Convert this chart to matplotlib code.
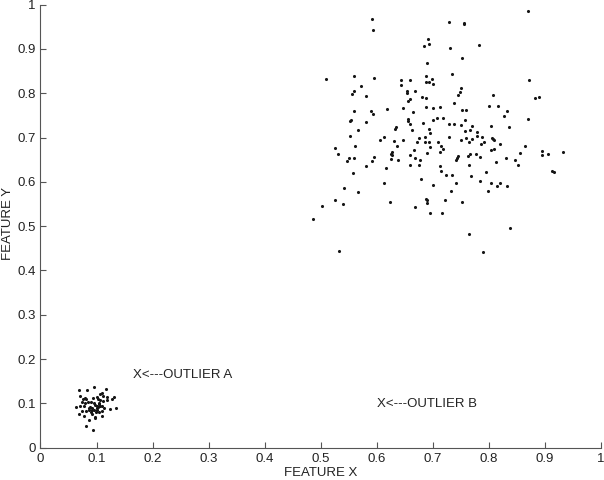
import matplotlib
matplotlib.use("Agg")
import matplotlib.pyplot as plt

# Cluster B (main cluster)
bx = [0.592, 0.593, 0.691, 0.684, 0.693, 0.689, 0.509, 0.560, 0.595, 0.687, 0.698, 0.644, 0.659, 0.687, 0.693, 0.701,
      0.571, 0.643, 0.560, 0.556, 0.654, 0.654, 0.669, 0.581, 0.681, 0.687, 0.659, 0.655, 0.618, 0.646, 0.687, 0.700,
      0.559, 0.589, 0.594, 0.664, 0.554, 0.552, 0.580, 0.656, 0.655, 0.659, 0.683, 0.700, 0.634, 0.633, 0.567, 0.663,
      0.693, 0.695,
      0.869, 0.729, 0.755, 0.755, 0.782, 0.730, 0.752, 0.735, 0.871, 0.750, 0.748, 0.745, 0.807, 0.889, 0.883, 0.737,
      0.712, 0.800, 0.817, 0.752, 0.759, 0.833, 0.827, 0.707, 0.718, 0.870, 0.758, 0.729, 0.738, 0.751, 0.803, 0.770,
      0.836, 0.766, 0.758, 0.778,
      0.553, 0.606, 0.613, 0.631, 0.646, 0.636, 0.675, 0.686, 0.672, 0.686, 0.694, 0.695, 0.525, 0.561, 0.627, 0.625,
      0.628, 0.667, 0.689, 0.530, 0.660, 0.595, 0.550, 0.560, 0.547, 0.626, 0.637, 0.668, 0.677, 0.592, 0.581, 0.659,
      0.676, 0.617, 0.558, 0.679, 0.612, 0.701, 0.542, 0.566, 0.687, 0.690, 0.526, 0.689, 0.624, 0.502, 0.539, 0.669,
      0.695, 0.486, 0.533,
      0.729, 0.710, 0.751, 0.760, 0.770, 0.778, 0.787, 0.765, 0.791, 0.786, 0.806, 0.808, 0.810, 0.819, 0.715, 0.718,
      0.713, 0.804, 0.809, 0.864, 0.894, 0.932, 0.767, 0.762, 0.777, 0.856, 0.894, 0.906, 0.745, 0.744, 0.742, 0.785,
      0.831, 0.813, 0.847, 0.852, 0.713, 0.765, 0.715, 0.794, 0.913, 0.916, 0.724, 0.734, 0.768, 0.785, 0.741, 0.803,
      0.820, 0.814, 0.832, 0.799, 0.733, 0.721, 0.752, 0.717, 0.837, 0.765, 0.790]
by = [0.968, 0.943, 0.922, 0.907, 0.911, 0.869, 0.832, 0.839, 0.834, 0.838, 0.833, 0.830, 0.829, 0.826, 0.825, 0.820,
      0.816, 0.818, 0.805, 0.799, 0.805, 0.801, 0.805, 0.793, 0.792, 0.789, 0.786, 0.782, 0.764, 0.766, 0.768, 0.767,
      0.761, 0.761, 0.754, 0.758, 0.740, 0.737, 0.735, 0.741, 0.738, 0.730, 0.733, 0.740, 0.724, 0.719, 0.716, 0.718,
      0.719, 0.710,
      0.986, 0.961, 0.959, 0.956, 0.910, 0.902, 0.880, 0.843, 0.829, 0.811, 0.802, 0.796, 0.797, 0.792, 0.789, 0.777,
      0.770, 0.772, 0.772, 0.763, 0.763, 0.761, 0.749, 0.744, 0.744, 0.741, 0.739, 0.730, 0.730, 0.729, 0.727, 0.725,
      0.724, 0.717, 0.714, 0.713,
      0.703, 0.695, 0.701, 0.692, 0.694, 0.680, 0.698, 0.701, 0.689, 0.691, 0.690, 0.679, 0.677, 0.680, 0.668, 0.663,
      0.661, 0.671, 0.665, 0.662, 0.661, 0.657, 0.653, 0.655, 0.648, 0.652, 0.650, 0.653, 0.650, 0.647, 0.636, 0.638,
      0.639, 0.631, 0.619, 0.607, 0.598, 0.594, 0.587, 0.577, 0.562, 0.560, 0.558, 0.552, 0.554, 0.546, 0.549, 0.543,
      0.530, 0.517, 0.445,
      0.702, 0.691, 0.695, 0.700, 0.697, 0.703, 0.701, 0.689, 0.690, 0.685, 0.700, 0.697, 0.694, 0.686, 0.680, 0.674,
      0.667, 0.671, 0.674, 0.681, 0.669, 0.668, 0.664, 0.659, 0.664, 0.665, 0.661, 0.662, 0.658, 0.654, 0.650, 0.656,
      0.655, 0.644, 0.649, 0.637, 0.636, 0.637, 0.625, 0.622, 0.624, 0.623, 0.616, 0.616, 0.613, 0.603, 0.597, 0.598,
      0.598, 0.591, 0.591, 0.579, 0.579, 0.560, 0.554, 0.529, 0.496, 0.482, 0.442]

# Cluster A (outlier group)
ax_ = [0.068, 0.083, 0.095, 0.117, 0.110, 0.106, 0.071, 0.075, 0.079, 0.082, 0.094, 0.100, 0.103, 0.107, 0.112, 0.119,
       0.128, 0.131, 0.074, 0.080, 0.085, 0.091, 0.096, 0.104, 0.112, 0.118, 0.063, 0.071, 0.078, 0.086, 0.088, 0.092,
       0.097, 0.100, 0.103, 0.106, 0.110, 0.113, 0.124, 0.135, 0.074, 0.081, 0.087, 0.092, 0.096, 0.100, 0.105, 0.110,
       0.068, 0.078, 0.092, 0.097, 0.098, 0.086, 0.109, 0.081, 0.094, 0.101, 0.105, 0.099, 0.090]
ay_ = [0.130, 0.130, 0.138, 0.133, 0.124, 0.121, 0.117, 0.110, 0.113, 0.111, 0.113, 0.114, 0.111, 0.107, 0.116, 0.114,
       0.111, 0.114, 0.104, 0.101, 0.104, 0.104, 0.102, 0.102, 0.105, 0.107, 0.092, 0.093, 0.095, 0.089, 0.092, 0.090,
       0.096, 0.095, 0.092, 0.093, 0.095, 0.090, 0.087, 0.090, 0.083, 0.083, 0.084, 0.086, 0.086, 0.086, 0.081, 0.083,
       0.077, 0.072, 0.077, 0.069, 0.066, 0.062, 0.072, 0.050, 0.041, 0.089, 0.098, 0.080, 0.080]

ticks = [0, 0.1, 0.2, 0.3, 0.4, 0.5, 0.6, 0.7, 0.8, 0.9, 1]
tick_labels = ["0", "0.1", "0.2", "0.3", "0.4", "0.5", "0.6", "0.7", "0.8", "0.9", "1"]

plt.rcParams['font.family'] = ['Liberation Sans', 'DejaVu Sans']

fig = plt.figure(figsize=(6.04, 4.80), dpi=100)
ax = fig.add_axes([0.067, 0.0673, 0.928, 0.923])

ax.scatter(bx, by, s=5, c='#151515', marker='o', linewidths=0)
ax.scatter(ax_, ay_, s=5, c='#151515', marker='o', linewidths=0)

ax.text(0.165, 0.164, "X<---OUTLIER A", fontsize=9.5, va='center', ha='left', color='#222222')
ax.text(0.600, 0.099, "X<---OUTLIER B", fontsize=9.5, va='center', ha='left', color='#222222')

ax.set_xlim(0, 1)
ax.set_ylim(0, 1)
ax.set_xticks(ticks)
ax.set_xticklabels(tick_labels)
ax.set_yticks(ticks)
ax.set_yticklabels(tick_labels)
ax.tick_params(direction='in', length=4, width=0.8, color='#555555', labelsize=9.5, labelcolor='#222222')
for s in ['top', 'right']:
    ax.spines[s].set_visible(False)
for s in ['left', 'bottom']:
    ax.spines[s].set_color('#555555')
    ax.spines[s].set_linewidth(0.8)

ax.set_xlabel("FEATURE X", fontsize=9.5, color='#222222', labelpad=2)
ax.set_ylabel("FEATURE Y", fontsize=9.5, color='#222222', va='center')
ax.yaxis.set_label_coords(-0.058, 0.505)

fig.savefig("out.png", dpi=100)
